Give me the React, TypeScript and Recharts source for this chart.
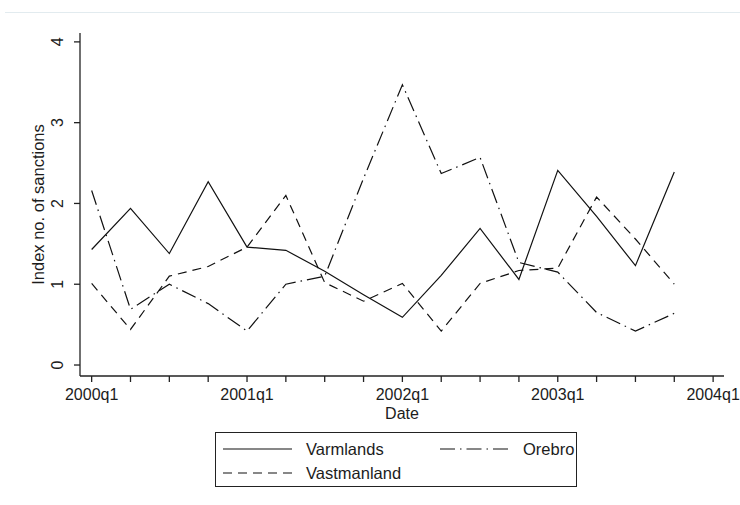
import { LineChart, Line, XAxis, YAxis } from 'recharts'

// quarters 2000q1 .. 2003q4
const quarters = [
  '2000q1', '2000q2', '2000q3', '2000q4',
  '2001q1', '2001q2', '2001q3', '2001q4',
  '2002q1', '2002q2', '2002q3', '2002q4',
  '2003q1', '2003q2', '2003q3', '2003q4',
]

const varmlands = [1.43, 1.94, 1.38, 2.27, 1.46, 1.42, 1.16, 0.87, 0.59, 1.11, 1.69, 1.06, 2.41, 1.84, 1.23, 2.39]
const orebro = [2.16, 0.69, 1.0, 0.76, 0.42, 1.0, 1.1, 2.31, 3.47, 2.37, 2.57, 1.27, 1.15, 0.65, 0.42, 0.64]
const vastmanland = [1.01, 0.44, 1.1, 1.22, 1.46, 2.1, 1.02, 0.79, 1.01, 0.42, 1.01, 1.17, 1.2, 2.08, 1.56, 1.0]

const xTickLabels = ['2000q1', '2001q1', '2002q1', '2003q1', '2004q1']
const yTicks = [0, 1, 2, 3, 4]

const series = [
  { key: 'varmlands', name: 'Varmlands', dash: undefined as string | undefined },
  { key: 'orebro', name: 'Orebro', dash: '15 5 1.5 5' },
  { key: 'vastmanland', name: 'Vastmanland', dash: '9 6' },
]

const data = quarters.map((q, i) => ({
  t: i,
  label: q,
  varmlands: varmlands[i],
  orebro: orebro[i],
  vastmanland: vastmanland[i],
}))

// one tick per quarter, labels only on the first quarter of each year
const xTicks = Array.from({ length: xTickLabels.length * 4 - 3 }, (_, i) => i)

const FONT = '"Liberation Sans", Arial, sans-serif'
const INK = '#1c1c1c'

function XTick({ x, y, payload }: any) {
  const v = payload.value as number
  if (v % 4 !== 0) return null
  return (
    <text x={x} y={y} dy={10} textAnchor="middle" fontFamily={FONT} fontSize={16} fill={INK}>
      {xTickLabels[v / 4]}
    </text>
  )
}

function YTick({ x, y, payload }: any) {
  const bx = x - 9
  return (
    <text x={bx} y={y} textAnchor="middle" transform={`rotate(-90 ${bx} ${y})`} fontFamily={FONT} fontSize={16} fill={INK}>
      {payload.value}
    </text>
  )
}

function LegendBox() {
  return (
    <div
      style={{
        position: 'absolute',
        left: 215,
        top: 432,
        width: 362,
        height: 55,
        border: '1.3px solid #222',
        boxSizing: 'border-box',
        fontFamily: FONT,
        fontSize: 16.5,
        color: INK,
      }}
    >
      <svg width={360} height={53}>
        {series.map((s, i) => {
          const col = i === 1 ? 1 : 0
          const row = i === 2 ? 1 : 0
          const x0 = col ? 224 : 7
          const cy = row ? 40 : 16
          return (
            <g key={s.key}>
              <line x1={x0} x2={x0 + 69} y1={cy} y2={cy} stroke="#111" strokeWidth={1.2} strokeDasharray={s.dash} />
              <text x={x0 + 83} y={cy + 6} fontFamily={FONT} fontSize={16.5} fill={INK}>
                {s.name}
              </text>
            </g>
          )
        })}
      </svg>
    </div>
  )
}

export default function App() {
  return (
    <div style={{ position: 'absolute', left: 0, top: 0, width: 740, height: 505, background: '#fff' }}>
      <div style={{ position: 'absolute', left: 5, top: 12, width: 735, height: 1, background: '#e2ebef' }} />
      <LineChart width={740} height={505} data={data} margin={{ top: 33, right: 16, bottom: 99, left: 0 }}>
        <XAxis
          dataKey="t"
          type="number"
          domain={[-0.3, 16.28]}
          allowDataOverflow
          ticks={xTicks}
          interval={0}
          tick={<XTick />}
          tickSize={6}
          tickMargin={8}
          height={30}
          axisLine={{ stroke: '#222', strokeWidth: 1.3 }}
          tickLine={{ stroke: '#222', strokeWidth: 1.3 }}
          label={{
            content: ({ viewBox }: any) => (
              <text x={viewBox.x + viewBox.width / 2} y={418.5} textAnchor="middle" fontFamily={FONT} fontSize={16} fill={INK}>
                Date
              </text>
            ),
          }}
        />
        <YAxis
          type="number"
          domain={[-0.136, 4.11]}
          allowDataOverflow
          ticks={yTicks}
          interval={0}
          tick={<YTick />}
          tickSize={6}
          tickMargin={2}
          width={80}
          axisLine={{ stroke: '#222', strokeWidth: 1.3 }}
          tickLine={{ stroke: '#222', strokeWidth: 1.3 }}
          label={{
            content: ({ viewBox }: any) => {
              const bx = viewBox.x + 43.5
              const cy = viewBox.y + viewBox.height / 2
              return (
                <text x={bx} y={cy} textAnchor="middle" transform={`rotate(-90 ${bx} ${cy})`} fontFamily={FONT} fontSize={16.5} fill={INK}>
                  Index no. of sanctions
                </text>
              )
            },
          }}
        />
        {series.map((s) => (
          <Line
            key={s.key}
            dataKey={s.key}
            name={s.name}
            type="linear"
            stroke="#111"
            strokeWidth={1.2}
            strokeDasharray={s.dash}
            dot={false}
            activeDot={false}
            isAnimationActive={false}
          />
        ))}
      </LineChart>
      <LegendBox />
    </div>
  )
}
